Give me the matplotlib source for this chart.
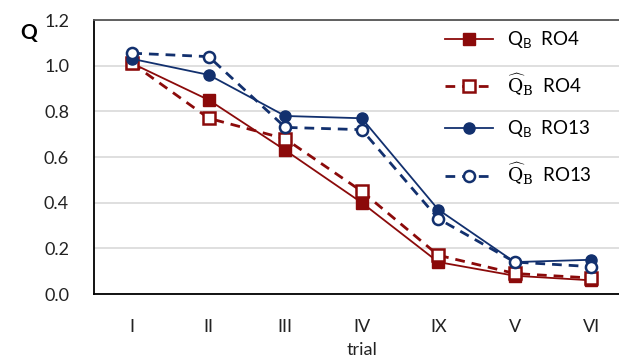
import matplotlib
matplotlib.use("Agg")
import matplotlib.pyplot as plt

plt.rcParams['font.family'] = ['Lato', 'DejaVu Sans']
plt.rcParams['mathtext.fontset'] = 'custom'
plt.rcParams['mathtext.rm'] = 'DejaVu Serif'
plt.rcParams['mathtext.sf'] = 'Lato'

# data
trials = ["I", "II", "III", "IV", "IX", "V", "VI"]
qb_ro4 = [1.01, 0.85, 0.63, 0.40, 0.14, 0.08, 0.06]
qb_hat_ro4 = [1.01, 0.77, 0.68, 0.45, 0.17, 0.09, 0.07]
qb_ro13 = [1.03, 0.96, 0.78, 0.77, 0.37, 0.14, 0.15]
qb_hat_ro13 = [1.055, 1.04, 0.73, 0.72, 0.33, 0.14, 0.12]

red = "#8B0A0A"
navy = "#12306E"

fig = plt.figure(figsize=(6.19, 3.59), dpi=100)
ax = fig.add_axes([0.1519, 0.181, 0.865, 0.763])

x = range(len(trials))
ax.plot(x, qb_ro4, color=red, lw=1.3, marker="s", ms=8.5,
        label=r"Q$_{\mathsf{B}}$  RO4", zorder=3)
ax.plot(x, qb_hat_ro4, color=red, lw=2, ls=(0, (3.5, 2.5)), marker="s", ms=8,
        mfc="white", mew=1.8, label=r"$\widehat{\mathrm{Q}}_\mathrm{B}$  RO4", zorder=3)
ax.plot(x, qb_ro13, color=navy, lw=1.3, marker="o", ms=8,
        label=r"Q$_{\mathsf{B}}$  RO13", zorder=4)
ax.plot(x, qb_hat_ro13, color=navy, lw=2, ls=(0, (3.5, 2.5)), marker="o", ms=8,
        mfc="white", mew=1.8, label=r"$\widehat{\mathrm{Q}}_\mathrm{B}$  RO13", zorder=4)

ax.set_xlim(-0.5, 6.5)
ax.set_ylim(0, 1.2)
ax.set_xticks(list(x))
ax.set_xticklabels(trials)
ax.set_yticks([0, 0.2, 0.4, 0.6, 0.8, 1.0, 1.2])
ax.set_yticklabels(["0.0", "0.2", "0.4", "0.6", "0.8", "1.0", "1.2"])
ax.tick_params(axis="both", length=0, labelsize=13, colors="#222222")
ax.tick_params(axis="x", pad=18)
ax.tick_params(axis="y", pad=18)
ax.grid(axis="y", color="#D9D9D9", lw=1.2)
ax.set_axisbelow(True)
for s in ["left", "bottom"]:
    ax.spines[s].set_color("black")
    ax.spines[s].set_linewidth(1.3)
ax.spines["top"].set_color("#555555")
ax.spines["top"].set_linewidth(1.3)
ax.spines["right"].set_visible(False)

ax.set_xlabel("trial", fontsize=13, labelpad=5, color="#222222")
fig.text(20 / 619, 1 - 33 / 359, "Q", fontsize=15, fontweight="bold", va="center")

leg = ax.legend(loc="upper left", bbox_to_anchor=(0.655, 0.965), frameon=False,
                fontsize=13.5, labelspacing=1.1, handlelength=2.6, handletextpad=0.7,
                borderpad=0, borderaxespad=0)

fig.savefig("out.png", dpi=100)
